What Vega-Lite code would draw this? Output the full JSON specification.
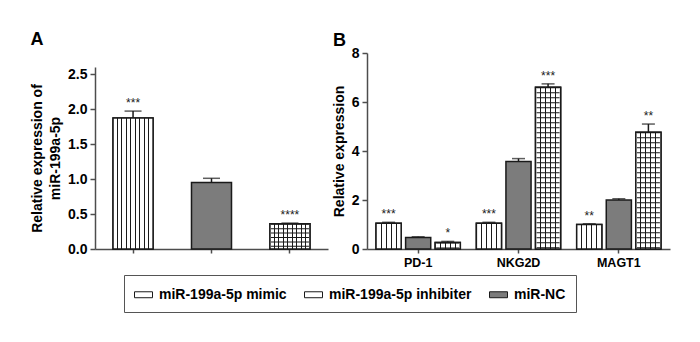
{
  "$schema": "https://vega.github.io/schema/vega-lite/v6.json",
  "padding": {"left": 30, "top": 31, "right": 28, "bottom": 30},
  "bounds": "flush",
  "spacing": 39,
  "config": {
    "font": "Liberation Sans",
    "view": {"stroke": null},
    "axis": {"domainColor": "#4d4d4d", "domainWidth": 1.5, "tickColor": "#4d4d4d", "tickWidth": 1.5, "labelColor": "black", "labelFontWeight": "bold", "labelFontSize": 14, "titleFontSize": 14, "titleFontWeight": "bold", "titleColor": "black", "grid": false, "labelOverlap": false}
  },
  "resolve": {"scale": {"fill": "independent"}},
  "hconcat": [
    {
      "width": 233,
      "height": 196,
      "title": {"text": "A", "anchor": "start", "frame": "bounds", "fontSize": 18, "fontWeight": "bold", "offset": 4},
      "data": {"values": [
        {"treatment": "miR-199a-5p mimic", "value": 1.87, "upper": 1.97, "sig": "***"},
        {"treatment": "miR-NC", "value": 0.95, "upper": 1.01, "sig": ""},
        {"treatment": "miR-199a-5p inhibiter", "value": 0.36, "upper": 0.37, "sig": "****"}
      ]},
      "encoding": {
        "x": {"field": "treatment", "type": "nominal", "sort": ["miR-199a-5p mimic", "miR-NC", "miR-199a-5p inhibiter"], "scale": {"paddingInner": 0.49, "paddingOuter": 0.23}, "axis": {"labels": false, "title": null, "tickSize": 4}}
      },
      "layer": [
        {
          "mark": {"type": "rule", "stroke": "#1a1a1a", "strokeWidth": 1.5},
          "encoding": {
            "y": {"field": "value", "type": "quantitative", "title": ["Relative expression of", "miR-199a-5p"], "scale": {"domain": [0, 2.5], "range": [196, 14]}, "axis": {"values": [0, 0.5, 1, 1.5, 2, 2.5], "format": ".1f", "tickSize": 5, "labelPadding": 3, "titlePadding": 5, "titleLineHeight": 18}},
            "y2": {"field": "upper"}
          }
        },
        {
          "mark": {"type": "bar", "stroke": "#1a1a1a", "strokeWidth": 1.5},
          "encoding": {
            "y": {"field": "value", "type": "quantitative", "title": ["Relative expression of", "miR-199a-5p"], "axis": {"values": [0, 0.5, 1, 1.5, 2, 2.5], "format": ".1f", "tickSize": 5, "labelPadding": 3, "titlePadding": 5, "titleLineHeight": 18}},
            "fill": {"field": "treatment", "type": "nominal", "legend": null, "scale": {"domain": ["miR-199a-5p mimic", "miR-199a-5p inhibiter", "miR-NC"], "range": ["white", "white", "#7c7c7c"]}}
          }
        },
        {
          "transform": [{"filter": "datum.treatment !== 'miR-NC'"}],
          "mark": {"type": "bar", "stroke": "#1a1a1a", "strokeWidth": 1.5,
            "fill": {"gradient": "linear", "x1": 0, "x2": 1, "y1": 0, "y2": 0, "stops": [
                {"offset": 0, "color": "white"}, {"offset": 0.0986, "color": "white"}, {"offset": 0.0986, "color": "#1a1a1a"}, {"offset": 0.1236, "color": "#1a1a1a"}, {"offset": 0.1236, "color": "white"},
                {"offset": 0.2097, "color": "white"}, {"offset": 0.2097, "color": "#1a1a1a"}, {"offset": 0.2347, "color": "#1a1a1a"}, {"offset": 0.2347, "color": "white"},
                {"offset": 0.3208, "color": "white"}, {"offset": 0.3208, "color": "#1a1a1a"}, {"offset": 0.3458, "color": "#1a1a1a"}, {"offset": 0.3458, "color": "white"},
                {"offset": 0.4319, "color": "white"}, {"offset": 0.4319, "color": "#1a1a1a"}, {"offset": 0.4569, "color": "#1a1a1a"}, {"offset": 0.4569, "color": "white"},
                {"offset": 0.5431, "color": "white"}, {"offset": 0.5431, "color": "#1a1a1a"}, {"offset": 0.5681, "color": "#1a1a1a"}, {"offset": 0.5681, "color": "white"},
                {"offset": 0.6542, "color": "white"}, {"offset": 0.6542, "color": "#1a1a1a"}, {"offset": 0.6792, "color": "#1a1a1a"}, {"offset": 0.6792, "color": "white"},
                {"offset": 0.7653, "color": "white"}, {"offset": 0.7653, "color": "#1a1a1a"}, {"offset": 0.7903, "color": "#1a1a1a"}, {"offset": 0.7903, "color": "white"},
                {"offset": 0.8764, "color": "white"}, {"offset": 0.8764, "color": "#1a1a1a"}, {"offset": 0.9014, "color": "#1a1a1a"}, {"offset": 0.9014, "color": "white"},
                {"offset": 1, "color": "white"}]}},
          "encoding": {
            "y": {"field": "value", "type": "quantitative", "title": ["Relative expression of", "miR-199a-5p"], "axis": {"values": [0, 0.5, 1, 1.5, 2, 2.5], "format": ".1f", "tickSize": 5, "labelPadding": 3, "titlePadding": 5, "titleLineHeight": 18}}
          }
        },
        {
          "transform": [{"filter": "datum.treatment === 'miR-199a-5p inhibiter'"}],
          "mark": {"type": "rule", "stroke": "#1a1a1a", "strokeWidth": 38, "strokeDash": [1, 3.4]},
          "encoding": {
            "y": {"field": "value", "type": "quantitative", "title": ["Relative expression of", "miR-199a-5p"], "axis": {"values": [0, 0.5, 1, 1.5, 2, 2.5], "format": ".1f", "tickSize": 5, "labelPadding": 3, "titlePadding": 5, "titleLineHeight": 18}},
            "y2": {"datum": 0}
          }
        },
        {
          "mark": {"type": "tick", "color": "#1a1a1a", "size": 17, "thickness": 1.5},
          "encoding": {"y": {"field": "upper", "type": "quantitative", "title": ["Relative expression of", "miR-199a-5p"], "axis": {"values": [0, 0.5, 1, 1.5, 2, 2.5], "format": ".1f", "tickSize": 5, "labelPadding": 3, "titlePadding": 5, "titleLineHeight": 18}}}
        },
        {
          "mark": {"type": "text", "fontSize": 12, "dy": -4, "baseline": "alphabetic", "color": "#1a1a1a"},
          "encoding": {"y": {"field": "upper", "type": "quantitative", "title": ["Relative expression of", "miR-199a-5p"], "axis": {"values": [0, 0.5, 1, 1.5, 2, 2.5], "format": ".1f", "tickSize": 5, "labelPadding": 3, "titlePadding": 5, "titleLineHeight": 18}}, "text": {"field": "sig"}}
        }
      ]
    },
    {
      "width": 303,
      "height": 196,
      "title": {"text": "B", "anchor": "start", "frame": "group", "dx": -34, "fontSize": 18, "fontWeight": "bold", "offset": -4},
      "data": {"values": [
        {"gene": "PD-1", "treatment": "miR-199a-5p mimic", "value": 1.05, "upper": 1.09, "sig": "***"},
        {"gene": "PD-1", "treatment": "miR-NC", "value": 0.47, "upper": 0.5, "sig": ""},
        {"gene": "PD-1", "treatment": "miR-199a-5p inhibiter", "value": 0.27, "upper": 0.31, "sig": "*"},
        {"gene": "NKG2D", "treatment": "miR-199a-5p mimic", "value": 1.05, "upper": 1.09, "sig": "***"},
        {"gene": "NKG2D", "treatment": "miR-NC", "value": 3.57, "upper": 3.69, "sig": ""},
        {"gene": "NKG2D", "treatment": "miR-199a-5p inhibiter", "value": 6.6, "upper": 6.74, "sig": "***"},
        {"gene": "MAGT1", "treatment": "miR-199a-5p mimic", "value": 1.0, "upper": 1.03, "sig": "**"},
        {"gene": "MAGT1", "treatment": "miR-NC", "value": 2.0, "upper": 2.05, "sig": ""},
        {"gene": "MAGT1", "treatment": "miR-199a-5p inhibiter", "value": 4.77, "upper": 5.1, "sig": "**"}
      ]},
      "encoding": {
        "x": {"field": "gene", "type": "nominal", "sort": ["PD-1", "NKG2D", "MAGT1"], "scale": {"paddingInner": 0.16, "paddingOuter": 0.09}, "axis": {"title": null, "labelAngle": 0, "labelFontSize": 12.5, "tickSize": 4, "labelPadding": 3}},
        "xOffset": {"field": "treatment", "type": "nominal", "sort": ["miR-199a-5p mimic", "miR-NC", "miR-199a-5p inhibiter"], "scale": {"paddingInner": 0.15, "paddingOuter": 0}}
      },
      "layer": [
        {
          "mark": {"type": "rule", "stroke": "#1a1a1a", "strokeWidth": 1.5},
          "encoding": {
            "y": {"field": "value", "type": "quantitative", "title": "Relative expression", "scale": {"domain": [0, 8]}, "axis": {"values": [0, 2, 4, 6, 8], "tickSize": 5, "labelPadding": 3, "titlePadding": 5}},
            "y2": {"field": "upper"}
          }
        },
        {
          "mark": {"type": "bar", "stroke": "#1a1a1a", "strokeWidth": 1.5},
          "encoding": {
            "y": {"field": "value", "type": "quantitative", "title": "Relative expression", "axis": {"values": [0, 2, 4, 6, 8], "tickSize": 5, "labelPadding": 3, "titlePadding": 5}},
            "fill": {"field": "treatment", "type": "nominal",
              "legend": {"orient": "none", "legendX": -243, "legendY": 222, "direction": "horizontal", "title": null, "symbolType": "M-1,-0.33H1V0.33H-1Z", "symbolSize": 324, "symbolStrokeColor": "#1a1a1a", "symbolStrokeWidth": 1, "labelFontSize": 14, "labelFontWeight": "bold", "labelColor": "black", "padding": 10, "strokeColor": "#555555", "columnPadding": 15, "labelOffset": 6,
                "encode": {"symbols": {"update": {
                  "stroke": {"value": "#1a1a1a"},
                  "strokeWidth": {"value": 1},
                  "fill": [
                  {"test": "datum.value === 'miR-NC'", "value": "#7c7c7c"},
                  {"test": "datum.value === 'miR-199a-5p inhibiter'", "value": {"gradient": "linear", "x1": 0, "x2": 0, "y1": 0, "y2": 1, "stops": [
                    {"offset": 0, "color": "white"}, {"offset": 0.4, "color": "white"}, {"offset": 0.4, "color": "#1a1a1a"}, {"offset": 0.6, "color": "#1a1a1a"}, {"offset": 0.6, "color": "white"},
                    {"offset": 1, "color": "white"}]}},
                  {"value": {"gradient": "linear", "x1": 0, "x2": 1, "y1": 0, "y2": 0, "stops": [
                    {"offset": 0, "color": "white"}, {"offset": 0.17, "color": "white"}, {"offset": 0.17, "color": "#1a1a1a"}, {"offset": 0.23, "color": "#1a1a1a"}, {"offset": 0.23, "color": "white"},
                    {"offset": 0.37, "color": "white"}, {"offset": 0.37, "color": "#1a1a1a"}, {"offset": 0.43, "color": "#1a1a1a"}, {"offset": 0.43, "color": "white"},
                    {"offset": 0.57, "color": "white"}, {"offset": 0.57, "color": "#1a1a1a"}, {"offset": 0.63, "color": "#1a1a1a"}, {"offset": 0.63, "color": "white"},
                    {"offset": 0.77, "color": "white"}, {"offset": 0.77, "color": "#1a1a1a"}, {"offset": 0.83, "color": "#1a1a1a"}, {"offset": 0.83, "color": "white"},
                    {"offset": 1, "color": "white"}]}}
                ]}}}},
              "scale": {"domain": ["miR-199a-5p mimic", "miR-199a-5p inhibiter", "miR-NC"], "range": ["white", "white", "#7c7c7c"]}}
          }
        },
        {
          "transform": [{"filter": "datum.treatment !== 'miR-NC'"}],
          "mark": {"type": "bar", "stroke": "#1a1a1a", "strokeWidth": 1.5,
            "fill": {"gradient": "linear", "x1": 0, "x2": 1, "y1": 0, "y2": 0, "stops": [
                {"offset": 0, "color": "white"}, {"offset": 0.18, "color": "white"}, {"offset": 0.18, "color": "#1a1a1a"}, {"offset": 0.22, "color": "#1a1a1a"}, {"offset": 0.22, "color": "white"},
                {"offset": 0.38, "color": "white"}, {"offset": 0.38, "color": "#1a1a1a"}, {"offset": 0.42, "color": "#1a1a1a"}, {"offset": 0.42, "color": "white"},
                {"offset": 0.58, "color": "white"}, {"offset": 0.58, "color": "#1a1a1a"}, {"offset": 0.62, "color": "#1a1a1a"}, {"offset": 0.62, "color": "white"},
                {"offset": 0.78, "color": "white"}, {"offset": 0.78, "color": "#1a1a1a"}, {"offset": 0.82, "color": "#1a1a1a"}, {"offset": 0.82, "color": "white"},
                {"offset": 1, "color": "white"}]}},
          "encoding": {
            "y": {"field": "value", "type": "quantitative", "title": "Relative expression", "axis": {"values": [0, 2, 4, 6, 8], "tickSize": 5, "labelPadding": 3, "titlePadding": 5}}
          }
        },
        {
          "transform": [{"filter": "datum.treatment === 'miR-199a-5p inhibiter'"}],
          "mark": {"type": "rule", "stroke": "#1a1a1a", "strokeWidth": 23, "strokeDash": [1, 4]},
          "encoding": {
            "y": {"field": "value", "type": "quantitative", "title": "Relative expression", "axis": {"values": [0, 2, 4, 6, 8], "tickSize": 5, "labelPadding": 3, "titlePadding": 5}},
            "y2": {"datum": 0}
          }
        },
        {
          "mark": {"type": "tick", "color": "#1a1a1a", "size": 13, "thickness": 1.5},
          "encoding": {"y": {"field": "upper", "type": "quantitative", "title": "Relative expression", "axis": {"values": [0, 2, 4, 6, 8], "tickSize": 5, "labelPadding": 3, "titlePadding": 5}}}
        },
        {
          "mark": {"type": "text", "fontSize": 12, "dy": -4, "baseline": "alphabetic", "color": "#1a1a1a"},
          "encoding": {"y": {"field": "upper", "type": "quantitative", "title": "Relative expression", "axis": {"values": [0, 2, 4, 6, 8], "tickSize": 5, "labelPadding": 3, "titlePadding": 5}}, "text": {"field": "sig"}}
        }
      ]
    }
  ]
}
